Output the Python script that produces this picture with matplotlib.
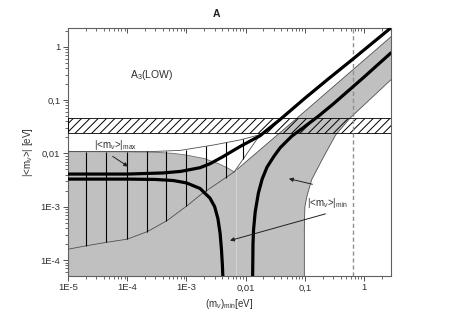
import matplotlib
matplotlib.use("Agg")
import matplotlib.pyplot as plt
import numpy as np
from matplotlib.ticker import FixedLocator, LogLocator, NullFormatter

plt.rcParams["font.family"] = ["Liberation Sans", "DejaVu Sans"]
plt.rcParams["mathtext.fontset"] = "custom"
plt.rcParams["mathtext.rm"] = "Liberation Sans"
plt.rcParams["mathtext.it"] = "Liberation Sans:italic"
plt.rcParams["hatch.linewidth"] = 0.7

# axis ticks
x_ticks = [1e-5, 1e-4, 1e-3, 1e-2, 1e-1, 1]
x_tick_labels = ["1E-5", "1E-4", "1E-3", "0,01", "0,1", "1"]
y_ticks = [1e-4, 1e-3, 1e-2, 1e-1, 1]
y_tick_labels = ["1E-4", "1E-3", "0,01", "0,1", "1"]

# gray region (lower-left part top, upper edge of the band, right boundary)
gray_top_x = [1e-5, 1e-5, 1e-4, 3e-4, 6e-4, 1e-3, 2e-3, 3.5e-3, 5e-3, 6.4e-3]
gray_top_y = [4e-5, 0.0108, 0.0107, 0.0105, 0.0100, 0.0093, 0.0080, 0.0064, 0.0053, 0.0045]
gray_edge_x = [6.4e-3, 0.0733, 2.9]
gray_edge_y = [0.0045, 0.0456, 1.56]
gray_right_x = [2.9, 0.58, 0.33, 0.20, 0.13, 0.108, 0.10, 0.098, 0.098]
gray_right_y = [0.245, 0.046, 0.022, 8e-3, 3.2e-3, 1.55e-3, 1.0e-3, 4e-4, 4e-5]
seam_x = [7.0e-3, 7.0e-3]
seam_y = [4e-5, 0.0050]

# vertically hatched region
v_upper_x = [1e-5, 3e-4, 7.9e-4, 2.9e-3, 8.1e-3, 0.0176]
v_upper_y = [0.0108, 0.0109, 0.0114, 0.0144, 0.0179, 0.0225]
v_lower_x = [1e-5, 2e-5, 4.3e-5, 1e-4, 2.2e-4, 4.7e-4, 1.02e-3, 1.72e-3, 6.4e-3, 0.0176]
v_lower_y = [1.6e-4, 1.85e-4, 2.14e-4, 2.47e-4, 3.43e-4, 5.5e-4, 1.04e-3, 1.67e-3, 4.5e-3, 0.0225]
vh_x = [2e-5, 4.3e-5, 1e-4, 2.15e-4, 4.6e-4, 1e-3, 2.15e-3, 4.6e-3, 9.1e-3]
vh_lo = [1.85e-4, 2.14e-4, 2.5e-4, 3.4e-4, 5.5e-4, 1.04e-3, 2.0e-3, 3.5e-3, 7.9e-3]
vh_hi = [0.0108, 0.0108, 0.0108, 0.0109, 0.0111, 0.0117, 0.0138, 0.0162, 0.0186]

# hatched horizontal band and dashed vertical line
band_lo, band_hi = 0.0239, 0.0456
dashed_x = 0.645

# thick curves
max_x = [1e-5, 1e-4, 4e-4, 8e-4, 1.7e-3, 2.5e-3, 4e-3, 8e-3, 0.0176, 0.023, 0.038, 0.1, 0.25, 0.62, 2.9]
max_y = [0.0041, 0.0041, 0.0043, 0.0046, 0.0054, 0.0064, 0.0085, 0.0134, 0.0215, 0.0275, 0.043, 0.108, 0.25, 0.563, 2.3]
minl_x = [1e-5, 1e-4, 3e-4, 6e-4, 1e-3, 1.7e-3, 2.5e-3, 3e-3, 3.4e-3, 3.7e-3, 3.9e-3, 4.05e-3, 4.15e-3]
minl_y = [3.3e-3, 3.3e-3, 3.25e-3, 3.1e-3, 2.8e-3, 2.2e-3, 1.45e-3, 1.0e-3, 6.0e-4, 3.2e-4, 1.6e-4, 8e-5, 4e-5]
minr_x = [0.0131, 0.0133, 0.0136, 0.0145, 0.0164, 0.019, 0.0229, 0.03, 0.0384, 0.06, 0.1, 0.17, 0.3, 1.0, 2.9]
minr_y = [4e-5, 2e-4, 3.7e-4, 8e-4, 1.8e-3, 3.3e-3, 5.5e-3, 8.8e-3, 0.0128, 0.021, 0.032, 0.050, 0.084, 0.27, 0.78]

fig = plt.figure(figsize=(4.63, 3.23), dpi=100)
ax = fig.add_axes([0.1469, 0.1464, 0.6976, 0.7669])
ax.set_xscale("log")
ax.set_yscale("log")
ax.set_xlim(1e-5, 2.85)
ax.set_ylim(5.1e-5, 2.24)

# gray area
gx = gray_top_x + gray_edge_x + gray_right_x
gy = gray_top_y + gray_edge_y + gray_right_y
ax.fill(gx, gy, color="#c0c0c0", lw=0, zorder=1)
ax.plot(gray_top_x[1:], gray_top_y[1:], color="#707070", lw=0.6, zorder=2)
ax.plot(gray_edge_x, gray_edge_y, color="#505050", lw=0.6, zorder=2)
ax.plot(gray_right_x, gray_right_y, color="#505050", lw=0.6, zorder=2)
ax.plot(seam_x, seam_y, color="#d2d2d2", lw=0.8, zorder=2)

# vertical hatch region
ax.plot(v_upper_x, v_upper_y, color="#505050", lw=0.6, zorder=3)
ax.plot(v_lower_x, v_lower_y, color="#505050", lw=0.6, zorder=3)
ax.vlines(vh_x, vh_lo, vh_hi, color="black", lw=0.8, zorder=3)

# hatched band
ax.axhspan(band_lo, band_hi, facecolor="none", edgecolor="black", hatch="////", lw=0.6, zorder=4)
ax.axvline(dashed_x, color="#909090", ls=(0, (3, 2)), lw=1.0, zorder=4)

# thick curves
for xs, ys in [(max_x, max_y), (minl_x, minl_y), (minr_x, minr_y)]:
    ax.plot(xs, ys, color="black", lw=2.3, solid_capstyle="butt", zorder=5)

# labels and arrows
txt = "#303030"
arrow = dict(arrowstyle="-|>", color="#202020", lw=0.7, mutation_scale=6)
ax.text(1.1e-4, 0.26, "A$_3$(LOW)", fontsize=7.5, color=txt)
ax.annotate("", xy=(1.13e-4, 5.3e-3), xytext=(5.2e-5, 9.4e-3), arrowprops=arrow, zorder=6)
ax.text(2.7e-5, 0.0125, r"|<m$_{\nu}$>|$_{\mathrm{max}}$", fontsize=7, color=txt, zorder=6)
ax.annotate("", xy=(0.0484, 3.45e-3), xytext=(0.149, 2.57e-3), arrowprops=arrow, zorder=6)
ax.annotate("", xy=(4.9e-3, 2.25e-4), xytext=(0.247, 7.6e-4), arrowprops=arrow, zorder=6)
ax.text(0.108, 1.2e-3, r"|<m$_{\nu}$>|$_{\mathrm{min}}$", fontsize=7, color=txt,
        va="center", zorder=6)

# ticks
ax.xaxis.set_major_locator(FixedLocator(x_ticks))
ax.set_xticklabels(x_tick_labels)
ax.xaxis.set_minor_locator(LogLocator(base=10, subs=np.arange(2, 10), numticks=20))
ax.xaxis.set_minor_formatter(NullFormatter())
ax.yaxis.set_major_locator(FixedLocator(y_ticks))
ax.set_yticklabels(y_tick_labels)
ax.yaxis.set_minor_locator(LogLocator(base=10, subs=np.arange(2, 10), numticks=20))
ax.yaxis.set_minor_formatter(NullFormatter())
ax.tick_params(which="major", direction="out", length=3.5, width=0.7, labelsize=6.8,
               labelcolor="#303030", color="#505050", pad=2)
ax.tick_params(which="minor", direction="out", length=2, width=0.6, color="#505050")

top = ax.secondary_xaxis("top")
top.xaxis.set_major_locator(FixedLocator(x_ticks))
top.xaxis.set_minor_locator(LogLocator(base=10, subs=np.arange(2, 10), numticks=20))
top.tick_params(which="both", direction="in", labeltop=False, color="#505050")
top.tick_params(which="major", length=3.5, width=0.7)
top.tick_params(which="minor", length=2, width=0.6)
top.xaxis.set_major_formatter(NullFormatter())
top.xaxis.set_minor_formatter(NullFormatter())
top.spines["top"].set_visible(False)

for sp in ax.spines.values():
    sp.set_color("#606060")
    sp.set_linewidth(0.8)

ax.set_xlabel(r"(m$_{\nu}$)$_{\mathrm{min}}$[eV]", fontsize=7, color=txt, labelpad=3)
ax.set_ylabel(r"|<m$_{\nu}$>| [eV]", fontsize=7, color=txt, labelpad=4)
fig.text(0.467, 0.958, "A", fontsize=7.5, fontweight="bold", ha="center", va="center", color="#202020")

fig.savefig("out.png", dpi=100)
